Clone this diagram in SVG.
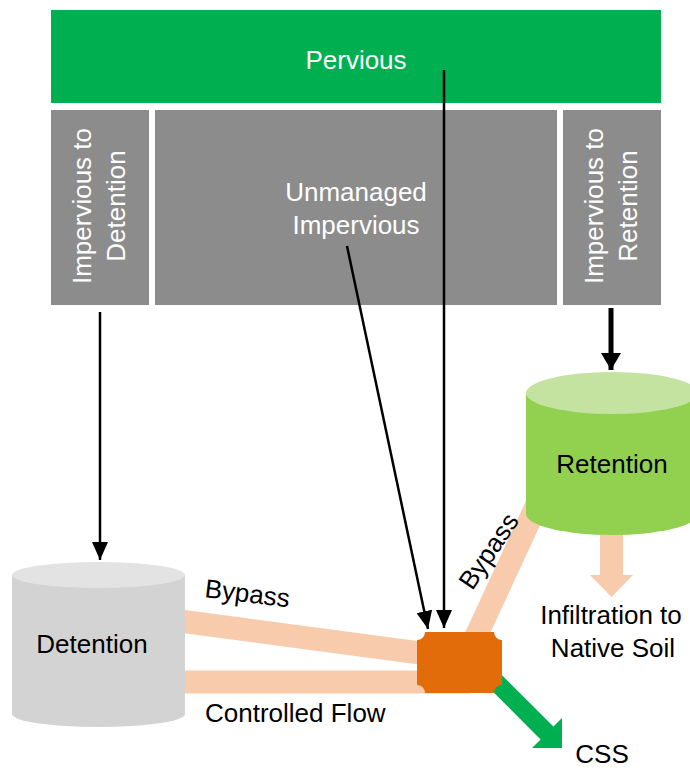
<svg xmlns="http://www.w3.org/2000/svg" width="690" height="769" viewBox="0 0 690 769">
<style>
text{font-family:"Liberation Sans",Arial,sans-serif;font-size:26px;fill:#000}
.w{fill:#fff}
.gray{fill:#8c8c8c}
.band{stroke:#f8cbad;stroke-width:23;fill:none}
.ln{stroke:#000;stroke-width:2.5;fill:none}
</style>
<defs>
<marker id="ah" markerUnits="userSpaceOnUse" markerWidth="18" markerHeight="16" refX="18" refY="8" orient="auto">
<path d="M0,0 L18,8 L0,16 Z" fill="#000"/>
</marker>
<marker id="ahb" markerUnits="userSpaceOnUse" markerWidth="17" markerHeight="20" refX="17" refY="10" orient="auto">
<path d="M0,0 L17,10 L0,20 Z" fill="#000"/>
</marker>
</defs>
<rect width="690" height="769" fill="#fff"/>

<g id="pervious">
<rect x="51" y="10" width="610" height="93" fill="#00b050"/>
<text class="w" x="356" y="69" text-anchor="middle">Pervious</text>
</g>
<g id="imp-detention">
<rect class="gray" x="51" y="110" width="98" height="195"/>
<text class="w" transform="translate(91,206) rotate(-90)" text-anchor="middle">Impervious to</text>
<text class="w" transform="translate(125,206) rotate(-90)" text-anchor="middle">Detention</text>
</g>
<g id="unmanaged">
<rect class="gray" x="155" y="110" width="402" height="195"/>
<text class="w" x="356" y="201" text-anchor="middle">Unmanaged</text>
<text class="w" x="356" y="234" text-anchor="middle">Impervious</text>
</g>
<g id="imp-retention">
<rect class="gray" x="563" y="110" width="98" height="195"/>
<text class="w" transform="translate(603,206) rotate(-90)" text-anchor="middle">Impervious to</text>
<text class="w" transform="translate(637,206) rotate(-90)" text-anchor="middle">Retention</text>
</g>

<g id="connectors">
<line class="band" x1="150" y1="617" x2="450" y2="657"/>
<line class="band" x1="150" y1="682" x2="470" y2="682" stroke-width="24"/>
<line class="band" x1="553" y1="470" x2="465" y2="660"/>
<path d="M600,520 H623 V575 H633 L611.5,597 L590,575 H600 Z" fill="#f8cbad"/>
<path d="M476.4,649.6 L553.4,726.6 L562,718 L562,748 L532,748 L540.6,739.4 L463.6,662.4 Z" fill="#00b050"/>
<line class="ln" x1="100" y1="312" x2="100" y2="560" marker-end="url(#ah)"/>
<line class="ln" x1="444" y1="70" x2="444" y2="628" marker-end="url(#ah)"/>
<line class="ln" x1="347" y1="246" x2="428" y2="629" marker-end="url(#ah)"/>
<line x1="611" y1="308" x2="611" y2="370" stroke="#000" stroke-width="5" marker-end="url(#ahb)"/>
<text transform="translate(204,597) rotate(7)">Bypass</text>
<text x="205" y="722">Controlled Flow</text>
<text transform="translate(496,556) rotate(-56)" text-anchor="middle">Bypass</text>
</g>

<g id="detention">
<path d="M12,575 V714 A86.5,13 0 0 0 185,714 V575 Z" fill="#d3d3d3"/>
<ellipse cx="98.5" cy="575" rx="86.5" ry="13" fill="#e3e3e3"/>
<text x="92" y="653" text-anchor="middle">Detention</text>
</g>
<g id="retention">
<path d="M526,393 V514 A86,21 0 0 0 698,514 V393 Z" fill="#92d050"/>
<ellipse cx="612" cy="393" rx="86" ry="21" fill="#c4e3a0"/>
<text x="612" y="473" text-anchor="middle">Retention</text>
</g>
<g id="junction">
<path d="M425,632 H494 A8,8 0 0 0 502,640 V685 A8,8 0 0 0 494,693 H425 A8,8 0 0 0 417,685 V640 A8,8 0 0 0 425,632 Z" fill="#e36c0a"/>
</g>
<g id="infiltration">
<text x="611" y="624" text-anchor="middle">Infiltration to</text>
<text x="613" y="657" text-anchor="middle">Native Soil</text>
</g>
<g id="css">
<text x="602" y="763" text-anchor="middle">CSS</text>
</g>
</svg>
